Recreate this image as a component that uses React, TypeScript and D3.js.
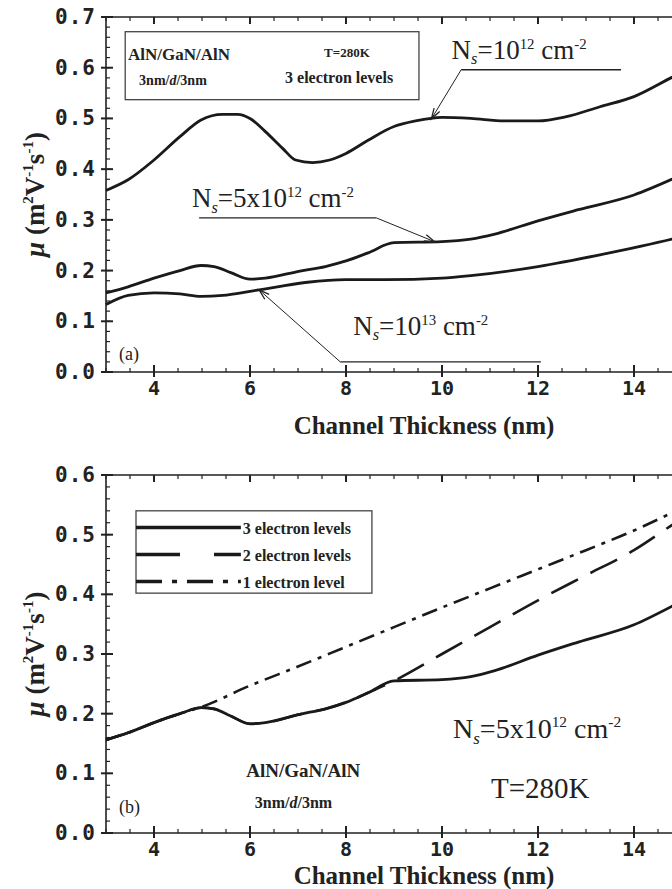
import React from 'react';
import * as d3 from 'd3';

// panel (a): mobility vs channel thickness, 3 electron levels
const xNs1e12 = [3, 3.46, 4, 4.54, 4.98, 5.43, 5.74, 6, 6.32, 6.68, 6.95, 7.3, 7.66, 8, 8.46, 9, 9.45, 10, 10.6, 11.3, 12, 12.57, 13.29, 14, 14.79, 15];
const yNs1e12 = [0.358, 0.379, 0.418, 0.464, 0.497, 0.508, 0.508, 0.5, 0.474, 0.441, 0.418, 0.413, 0.418, 0.431, 0.457, 0.484, 0.495, 0.502, 0.5, 0.495, 0.495, 0.503, 0.523, 0.543, 0.581, 0.591];

const xNs5e12 = [3, 3.46, 4, 4.54, 4.98, 5.25, 5.6, 6, 6.32, 7.04, 7.57, 8, 8.46, 9, 10, 10.6, 11.1, 12, 12.84, 14, 14.79, 15];
const yNs5e12 = [0.156, 0.168, 0.185, 0.2, 0.21, 0.208, 0.196, 0.183, 0.185, 0.199, 0.208, 0.219, 0.235, 0.255, 0.257, 0.262, 0.272, 0.298, 0.32, 0.349, 0.38, 0.389];

const xNs1e13 = [3, 3.46, 4, 4.54, 4.98, 5.43, 6, 6.57, 7.2, 8, 8.82, 10, 10.6, 12, 13.29, 14.79, 15];
const yNs1e13 = [0.133, 0.151, 0.156, 0.154, 0.149, 0.151, 0.159, 0.168, 0.177, 0.182, 0.182, 0.185, 0.19, 0.208, 0.231, 0.262, 0.267];

// panel (b): Ns = 5x10^12, number of electron levels (3 levels = xNs5e12 / yNs5e12)
const x2Levels = [3, 3.46, 4, 4.54, 4.98, 5.25, 5.6, 6, 6.32, 7.04, 7.57, 8, 8.46, 9, 10, 11, 12, 13, 14, 14.79, 15];
const y2Levels = [0.156, 0.168, 0.185, 0.2, 0.21, 0.208, 0.196, 0.183, 0.185, 0.199, 0.208, 0.219, 0.235, 0.255, 0.3, 0.345, 0.39, 0.432, 0.474, 0.516, 0.527];

const x1Level = [3, 3.46, 4, 4.54, 4.98, 6, 7, 8, 9, 10, 11, 12, 13, 14, 15];
const y1Level = [0.156, 0.168, 0.185, 0.2, 0.211, 0.247, 0.279, 0.312, 0.345, 0.378, 0.41, 0.442, 0.474, 0.507, 0.545];

const legendLabels = ['3 electron levels', '2 electron levels', '1 electron level'];
const legendDash = ['none', '44,34', '26,10,5,10'];

const xTicks = [4, 6, 8, 10, 12, 14];

const W = 672;
const H = 889;
const serif = '"Liberation Serif", "Times New Roman", serif';
const mono = '"DejaVu Sans Mono", monospace';

const x = d3.scaleLinear().domain([3, 15]).range([106, 682]);
const yA = d3.scaleLinear().domain([0, 0.7]).range([372, 17]);
const yB = d3.scaleLinear().domain([0, 0.6]).range([833, 475]);

const toPts = (xs: number[], ys: number[]) => xs.map((v, i) => [v, ys[i]] as [number, number]);

function Axes({ y, yMax, label }: { y: d3.ScaleLinear<number, number>; yMax: number; label: string }) {
  const y0 = y(0);
  const yTop = y(yMax);
  const minorX = d3.range(3, 15.01, 0.5);
  const majorY = d3.range(0, yMax + 0.001, 0.1);
  const minorY = d3.range(0, yMax + 0.001, 0.02);
  const midY = (y0 + yTop) / 2;
  return (
    <g>
      <path d={`M${x(3)},${yTop}V${y0}H${x(15)}M${x(3)},${yTop}H${x(15)}`} fill="none" stroke="#222" strokeWidth={1.6} />
      {minorX.map(v => (
        <g key={'mx' + v}>
          <line x1={x(v)} x2={x(v)} y1={y0} y2={y0 - 4} stroke="#222" strokeWidth={1.2} />
          <line x1={x(v)} x2={x(v)} y1={yTop} y2={yTop + 4} stroke="#222" strokeWidth={1.2} />
        </g>
      ))}
      {xTicks.map(v => (
        <g key={'X' + v}>
          <line x1={x(v)} x2={x(v)} y1={y0 + 5} y2={y0 - 7} stroke="#222" strokeWidth={2} />
          <line x1={x(v)} x2={x(v)} y1={yTop} y2={yTop + 7} stroke="#222" strokeWidth={2} />
          <text x={x(v)} y={y0 + 23} textAnchor="middle" fontFamily={mono} fontWeight="bold" fontSize={20} fill="#222">{v}</text>
        </g>
      ))}
      {minorY.map(v => (
        <line key={'my' + v} x1={x(3)} x2={x(3) + 4} y1={y(v)} y2={y(v)} stroke="#222" strokeWidth={1.2} />
      ))}
      {majorY.map(v => (
        <g key={'Y' + v}>
          <line x1={x(3) - 5} x2={x(3) + 7} y1={y(v)} y2={y(v)} stroke="#222" strokeWidth={2} />
          <text x={96} y={y(v) + 7} textAnchor="end" fontFamily={mono} fontWeight="bold" fontSize={21} letterSpacing={1} fill="#222">{v.toFixed(1)}</text>
        </g>
      ))}
      <text transform={`translate(44,${midY}) rotate(-90)`} textAnchor="middle" fontFamily={serif} fontWeight="bold" fontSize={27} fill="#222">
        <tspan fontStyle="italic">μ</tspan>
        <tspan> (m</tspan>
        <tspan fontSize={15} dy={-11}>2</tspan>
        <tspan dy={11}>V</tspan>
        <tspan fontSize={15} dy={-11}>-1</tspan>
        <tspan dy={11}>s</tspan>
        <tspan fontSize={15} dy={-11}>-1</tspan>
        <tspan dy={11}>)</tspan>
      </text>
      <text x={424} y={label === 'a' ? 434 : 884} textAnchor="middle" fontFamily={serif} fontWeight="bold" fontSize={25} fill="#222">Channel Thickness (nm)</text>
      <text x={x(3.27)} y={label === 'a' ? 360 : 813} fontFamily={serif} fontSize={18} fill="#222">({label})</text>
    </g>
  );
}

function NsLabel({ px, py, mant, exp, size }: { px: number; py: number; mant: string; exp: string; size: number }) {
  const s = size * 0.55;
  return (
    <text x={px} y={py} fontFamily={serif} fontSize={size} fill="#222">
      <tspan>N</tspan>
      <tspan fontStyle="italic" fontSize={s * 1.1} dy={size * 0.2}>s</tspan>
      <tspan dy={-size * 0.2}>={mant}</tspan>
      <tspan fontSize={s} dy={-size * 0.38}>{exp}</tspan>
      <tspan dy={size * 0.38}> cm</tspan>
      <tspan fontSize={s} dy={-size * 0.38}>-2</tspan>
    </text>
  );
}

// leader line + arrow pointing at a curve at thickness tx
function Callout({ y, x0, x1, ly, tx, xs, ys }: { y: d3.ScaleLinear<number, number>; x0: number; x1: number; ly: number; tx: number; xs: number[]; ys: number[] }) {
  const i = Math.max(1, d3.bisectLeft(xs, tx));
  const t = (tx - xs[i - 1]) / (xs[i] - xs[i - 1]);
  const cy = ys[i - 1] + t * (ys[i] - ys[i - 1]);
  const sx = x(x0);
  const sy = y(ly);
  const ex = x(tx);
  const ey = y(cy);
  const ang = Math.atan2(ey - sy, ex - sx);
  const ah = 11;
  const a1 = [ex - ah * Math.cos(ang - 0.3), ey - ah * Math.sin(ang - 0.3)];
  const a2 = [ex - ah * Math.cos(ang + 0.3), ey - ah * Math.sin(ang + 0.3)];
  return (
    <g fill="none" stroke="#222">
      <line x1={x(x1)} x2={sx} y1={sy} y2={sy} strokeWidth={1.3} />
      <line x1={sx} y1={sy} x2={ex} y2={ey} strokeWidth={1} />
      <path d={`M${a1[0]},${a1[1]}L${ex},${ey}L${a2[0]},${a2[1]}`} strokeWidth={1.3} />
    </g>
  );
}

export default function App() {
  const lineA = d3.line<[number, number]>().x(d => x(d[0])).y(d => yA(d[1])).curve(d3.curveMonotoneX);
  const lineB = d3.line<[number, number]>().x(d => x(d[0])).y(d => yB(d[1])).curve(d3.curveMonotoneX);
  const bold = { fontFamily: serif, fontWeight: 'bold' as const, fill: '#222' };

  return (
    <svg width={W} height={H} style={{ position: 'absolute', left: 0, top: 0, background: '#fff' }}>
      <rect width={W} height={H} fill="#fff" />
      {/* panel (a) */}
      <Axes y={yA} yMax={0.7} label="a" />
      <rect x={x(3.4)} y={yA(0.671)} width={x(9.52) - x(3.4)} height={yA(0.537) - yA(0.671)} fill="none" stroke="#444" strokeWidth={1.3} />
      <text x={x(3.46)} y={yA(0.615)} fontSize={17} {...bold}>AlN/GaN/AlN</text>
      <text x={x(3.69)} y={yA(0.566)} fontSize={14} {...bold}>3nm/<tspan fontStyle="italic">d</tspan>/3nm</text>
      <text x={x(8.02)} y={yA(0.621)} textAnchor="middle" fontSize={13} {...bold}>T=280K</text>
      <text x={x(6.73)} y={yA(0.57)} fontSize={16} {...bold}>3 electron levels</text>

      <g fill="none" stroke="#1a1a1a" strokeWidth={2.8}>
        <path d={lineA(toPts(xNs1e12, yNs1e12)) ?? ''} />
        <path d={lineA(toPts(xNs5e12, yNs5e12)) ?? ''} />
        <path d={lineA(toPts(xNs1e13, yNs1e13)) ?? ''} />
      </g>

      <NsLabel px={x(10.2)} py={yA(0.617)} mant="10" exp="12" size={27} />
      <Callout y={yA} x0={10.4} x1={13.73} ly={0.596} tx={9.78} xs={xNs1e12} ys={yNs1e12} />
      <NsLabel px={x(4.79)} py={yA(0.325)} mant="5x10" exp="12" size={27} />
      <Callout y={yA} x0={8.63} x1={4.94} ly={0.304} tx={9.85} xs={xNs5e12} ys={yNs5e12} />
      <NsLabel px={x(8.15)} py={yA(0.073)} mant="10" exp="13" size={27} />
      <Callout y={yA} x0={7.88} x1={12.06} ly={0.02} tx={6.19} xs={xNs1e13} ys={yNs1e13} />

      {/* panel (b) */}
      <Axes y={yB} yMax={0.6} label="b" />
      <g fill="none" stroke="#1a1a1a" strokeWidth={2.6}>
        <path d={lineB(toPts(x1Level, y1Level)) ?? ''} strokeDasharray="16,7,4,7" />
        <path d={lineB(toPts(x2Levels, y2Levels)) ?? ''} strokeDasharray="30,14" />
        <path d={lineB(toPts(xNs5e12, yNs5e12)) ?? ''} strokeWidth={2.8} />
      </g>

      <rect x={x(3.625)} y={yB(0.54)} width={x(8.54) - x(3.625)} height={yB(0.402) - yB(0.54)} fill="#fff" stroke="#444" strokeWidth={1.3} />
      {legendLabels.map((lab, i) => {
        const ly = yB(0.512) + i * 27;
        return (
          <g key={lab}>
            <line x1={x(3.625)} x2={x(5.81)} y1={ly} y2={ly} stroke="#1a1a1a" strokeWidth={3.5} strokeDasharray={legendDash[i]} />
            <text x={x(5.85)} y={ly + 6} fontSize={16} {...bold}>{lab}</text>
          </g>
        );
      })}

      <NsLabel px={x(10.23)} py={yB(0.159)} mant="5x10" exp="12" size={28} />
      <text x={x(11.02)} y={yB(0.059)} fontFamily={serif} fontSize={29} fill="#222">T=280K</text>
      <text x={x(5.92)} y={yB(0.094)} fontSize={19} {...bold}>AlN/GaN/AlN</text>
      <text x={x(6.1)} y={yB(0.042)} fontSize={16} {...bold}>3nm/<tspan fontStyle="italic">d</tspan>/3nm</text>
    </svg>
  );
}
